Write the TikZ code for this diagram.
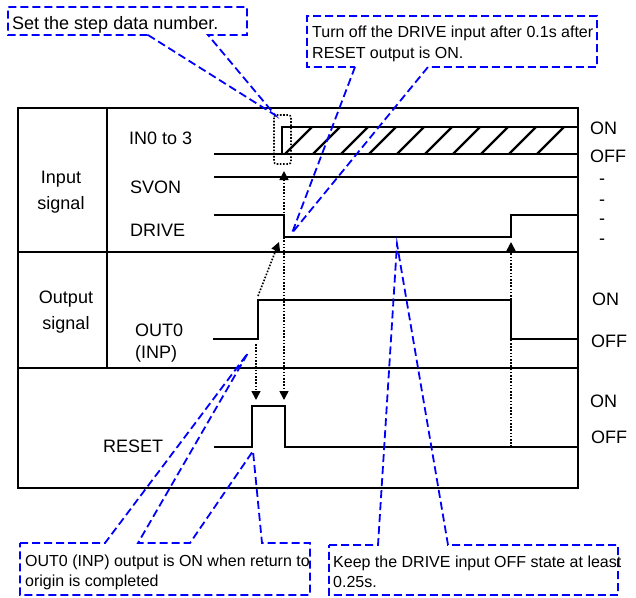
\documentclass[tikz,border=0pt]{standalone}
\usepackage{fontspec}
\setmainfont{Liberation Sans}
\usetikzlibrary{arrows.meta}
\begin{document}
\begin{tikzpicture}[x=1pt,y=-1pt,
  frame/.style={line width=1.7pt},
  sig/.style={line width=2.2pt, line join=miter},
  lbl/.style={inner sep=0pt, anchor=base west, font=\fontsize{18}{21}\selectfont},
  lblc/.style={lbl, anchor=base},
  note/.style={inner sep=0pt, anchor=base west, font=\fontsize{16}{21}\selectfont},
  callout/.style={draw=blue, line width=1.8pt, dash pattern=on 8pt off 4pt, line join=miter},
  dotline/.style={line width=1.6pt, dash pattern=on 1.6pt off 1.6pt},
  dotarrow/.style={dotline, -{Triangle[length=9pt,width=9pt]}},
  dotboth/.style={dotline, {Triangle[length=9pt,width=9pt]}-{Triangle[length=9pt,width=9pt]}},
]
\useasboundingbox (0,0) rectangle (636,597);

% frame
\draw[frame] (18,108) rectangle (578,488);
\draw[frame] (107,108) -- (107,368);
\draw[frame] (18,252) -- (578,252);
\draw[frame] (18,368) -- (578,368);

% labels
\node[lblc] (inA) at (61,183) {Input};
\node[lblc] (inB) at (61,209) {signal};
\node[lblc] (outA) at (66,303) {Output};
\node[lblc] (outB) at (66,329) {signal};
\node[lbl] (lin) at (129,144) {IN0 to 3};
\node[lbl] (lsvon) at (130,193) {SVON};
\node[lbl] (ldrive) at (130,236) {DRIVE};
\node[lbl] (lout) at (135,336) {OUT0};
\node[lbl] (linp) at (135,358) {(INP)};
\node[lbl] (lreset) at (103,452) {RESET};

\node[lbl] (on1) at (590,134) {ON};
\node[lbl] (off1) at (590,162) {OFF};
\node[lbl] (d1) at (599,184) {-};
\node[lbl] (d2) at (599,205) {-};
\node[lbl] (d3) at (599,224) {-};
\node[lbl] (d4) at (599,244) {-};
\node[lbl] (on2) at (592,305) {ON};
\node[lbl] (off2) at (591,347) {OFF};
\node[lbl] (on3) at (590,407) {ON};
\node[lbl] (off3) at (591,443) {OFF};

% signals
\draw[sig] (214,154) -- (578,154);
\draw[sig] (282,154) -- (282,127) -- (578,127);
\foreach \k in {0,...,9} \draw[sig] ({285+28*\k},154) -- ({312+28*\k},127);
\draw[sig] (214,177) -- (578,177);
\draw[sig] (214,215) -- (284,215) -- (284,237) -- (511,237) -- (511,215) -- (578,215);
\draw[sig] (213,339) -- (258,339) -- (258,300) -- (511,300) -- (511,339) -- (578,339);
\draw[sig] (214,447) -- (252,447) -- (252,406) -- (285,406) -- (285,447) -- (578,447);

% key coordinates
\coordinate (outLow) at (256,344);
\coordinate (rstRise) at (256,400);
\coordinate (inTop) at (284,171);
\coordinate (rstFall) at (284,400);
\coordinate (outRise) at (258,296);
\coordinate (drvFall) at (279,242);
\coordinate (rstLowR) at (511,447);
\coordinate (drvRise) at (511,242);

% dotted arrows
\draw[dotarrow] (outLow) -- (rstRise);
\draw[dotboth] (inTop) -- (rstFall);
\draw[dotarrow] (outRise) -- (drvFall);
\draw[dotarrow] (rstLowR) -- (drvRise);
\draw[dotline, rounded corners=2.5pt] (274,115) rectangle (291,164);

% callouts
\coordinate (tip1) at (275,115);
\coordinate (tip2) at (292,233);
\coordinate (tip3a) at (248,353);
\coordinate (tip3b) at (253,451);
\coordinate (tip4) at (397,244);

\draw[callout] (148,35) -- (tip1) -- (208,35) -- (247,35) -- (247,7) -- (8,7) -- (8,35) -- cycle;
\node[lbl] (n1) at (12,29) {Set the step data number.};

\draw[callout] (355,67) -- (tip2) -- (428,67) -- (597,67) -- (597,16) -- (307,16) -- (307,67) -- cycle;
\node[note] (n2a) at (312,37) {Turn off the DRIVE input after 0.1s after};
\node[note] (n2b) at (312,58) {RESET output is ON.};

\draw[callout] (20,543) -- (105,543) -- (tip3a) -- (138,543) -- (190,543) -- (tip3b) -- (262,543) -- (310,543) -- (310,595) -- (20,595) -- cycle;
\node[note] (n3a) at (25,566) {OUT0 (INP) output is ON when return to};
\node[note] (n3b) at (25,586) {origin is completed};

\draw[callout] (329,545) -- (378,545) -- (tip4) -- (448,545) -- (618,545) -- (618,595) -- (329,595) -- cycle;
\node[note] (n4a) at (333,567) {Keep the DRIVE input OFF state at least};
\node[note] (n4b) at (333,587) {0.25s.};
\end{tikzpicture}
\end{document}
